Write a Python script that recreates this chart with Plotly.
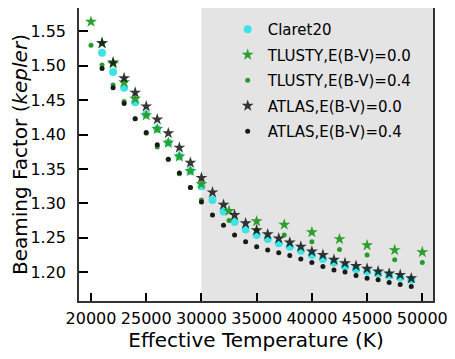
import plotly.graph_objects as go

# temperature grids
teff_atlas = list(range(21000, 50000, 1000))
teff_tlusty = list(range(20000, 31000, 1000)) + [32500, 35000, 37500, 40000, 42500, 45000, 47500, 50000]

claret20 = [1.519, 1.491, 1.468, 1.447, 1.429, 1.408, 1.388, 1.368, 1.347, 1.325,
            1.305, 1.288, 1.273, 1.262, 1.254, 1.248, 1.242, 1.237, 1.231, 1.225,
            1.219, 1.214, 1.208, 1.204, 1.201, 1.198, 1.195, 1.192, 1.189]

atlas_e00 = [1.533, 1.505, 1.482, 1.461, 1.441, 1.422, 1.402, 1.381, 1.359, 1.337,
             1.316, 1.298, 1.283, 1.271, 1.261, 1.255, 1.249, 1.243, 1.237, 1.230,
             1.225, 1.218, 1.213, 1.209, 1.205, 1.201, 1.198, 1.196, 1.191]

atlas_e04 = [1.496, 1.468, 1.445, 1.423, 1.403, 1.385, 1.364, 1.344, 1.323, 1.302,
             1.283, 1.268, 1.254, 1.244, 1.237, 1.232, 1.228, 1.224, 1.219, 1.214,
             1.208, 1.203, 1.200, 1.195, 1.191, 1.189, 1.185, 1.182, 1.179]

tlusty_e00 = [1.564, 1.533, 1.503, 1.476, 1.452, 1.428, 1.408, 1.388, 1.368, 1.347,
              1.328, 1.289, 1.274, 1.269, 1.258, 1.248, 1.239, 1.232, 1.229]

tlusty_e04 = [1.530, 1.501, 1.472, 1.448, 1.423, 1.402, 1.382, 1.364, 1.343, 1.323,
              1.305, 1.275, 1.261, 1.254, 1.244, 1.233, 1.225, 1.218, 1.214]

fig = go.Figure()

# hot star region
fig.add_vrect(x0=30000, x1=52000, fillcolor='#e4e4e4', line_width=0, layer='below')

fig.add_trace(go.Scatter(x=teff_atlas, y=claret20, mode='markers', name='Claret20', legendgroup='a',
                         marker=dict(symbol='circle', size=8, color='rgb(60,228,232)')))
fig.add_trace(go.Scatter(x=teff_tlusty, y=tlusty_e00, mode='markers', name='TLUSTY,E(B-V)=0.0', legendgroup='b',
                         marker=dict(symbol='star', size=9, color='#2ca02c')))
fig.add_trace(go.Scatter(x=teff_tlusty, y=tlusty_e04, mode='markers', name='TLUSTY,E(B-V)=0.4', legendgroup='c',
                         marker=dict(symbol='circle', size=5, color='#2a9a2a')))
fig.add_trace(go.Scatter(x=teff_atlas, y=atlas_e00, mode='markers', name='ATLAS,E(B-V)=0.0', legendgroup='d',
                         marker=dict(symbol='star', size=9, color='rgba(20,20,20,0.85)')))
fig.add_trace(go.Scatter(x=teff_atlas, y=atlas_e04, mode='markers', name='ATLAS,E(B-V)=0.4', legendgroup='e',
                         marker=dict(symbol='circle', size=5, color='#1a1a1a')))

# page body adds an 8px margin, so the figure is sized to fit inside the window
fig.update_layout(
    width=447, height=351,
    margin=dict(l=71, r=22, t=0, b=58),
    paper_bgcolor='white', plot_bgcolor='white',
    font=dict(family='DejaVu Sans', size=16, color='black'),
    showlegend=True,
    legend=dict(x=0.42, y=0.983, xanchor='left', yanchor='top', tracegroupgap=3,
                bgcolor='rgba(0,0,0,0)', font=dict(size=15)),
)
fig.update_xaxes(
    range=[18913, 50969], tickvals=[20000, 25000, 30000, 35000, 40000, 45000, 50000],
    tickformat='d', ticks='inside', ticklen=8, tickwidth=2, tickcolor='black',
    showline=True, linecolor='#333', linewidth=1.5, mirror=True,
    showgrid=False, zeroline=False, automargin=False, ticklabelstandoff=2,
    title=dict(text='Effective Temperature (K)', font=dict(size=20), standoff=4),
)
fig.update_yaxes(
    range=[1.158, 1.584], tickvals=[1.20, 1.25, 1.30, 1.35, 1.40, 1.45, 1.50, 1.55],
    tickformat='.2f', ticks='inside', ticklen=9, tickwidth=2, tickcolor='black',
    showline=True, linecolor='#333', linewidth=1.5, mirror=True,
    showgrid=False, zeroline=False, ticklabelstandoff=8, automargin=False,
    title=dict(text='Beaming Factor (<i>kepler</i>)', font=dict(size=20), standoff=0),
)

fig.write_html("out.html")
